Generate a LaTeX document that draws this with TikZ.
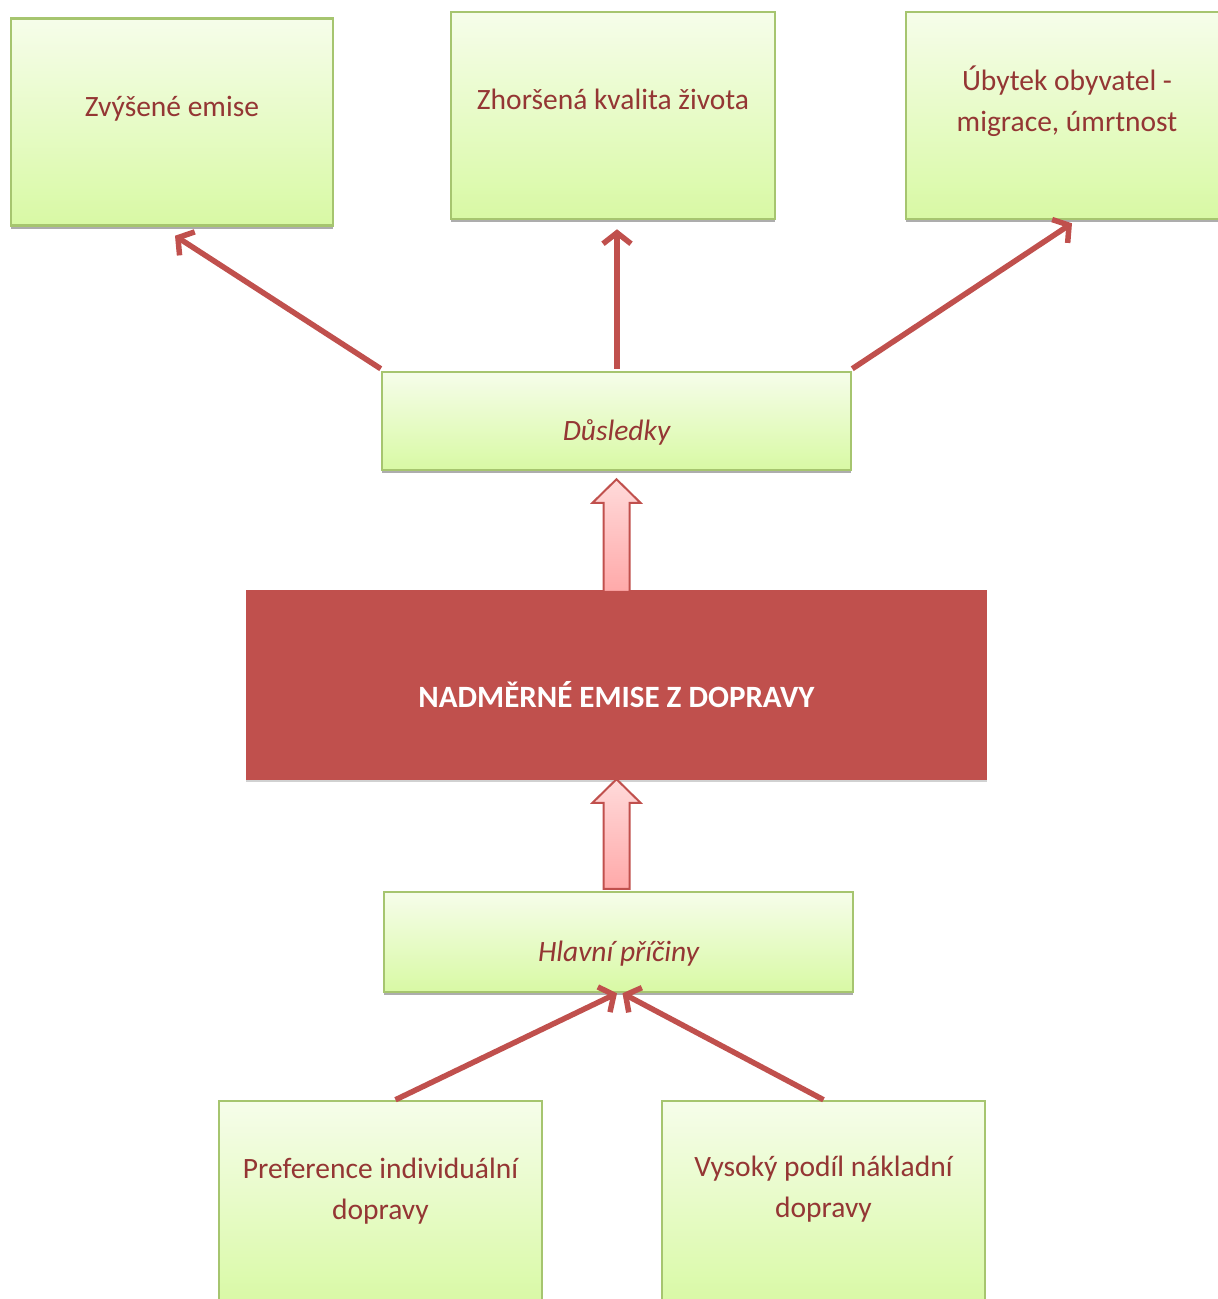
\documentclass[tikz,border=0pt]{standalone}
\usepackage{fontspec}
\setmainfont{Carlito}
\usetikzlibrary{arrows.meta,calc,shadows}
\definecolor{gTop}{HTML}{F6FDEA}
\definecolor{gBot}{HTML}{D8F9A4}
\definecolor{gBorder}{HTML}{A6C56F}
\definecolor{redBox}{HTML}{C0504D}
\definecolor{txtRed}{HTML}{943634}
\definecolor{pTop}{HTML}{FFDADA}
\definecolor{pBot}{HTML}{FFA9A9}
\tikzset{
  gbox/.style={rectangle, draw=gBorder, line width=2.5pt, top color=gTop, bottom color=gBot,
    drop shadow={shadow xshift=0pt, shadow yshift=-3pt, fill=black!40, opacity=0.8}, inner sep=0pt},
  txt/.style={text=txtRed, font=\fontsize{29.5}{41}\selectfont, align=center, inner sep=0pt},
  conn/.style={draw=redBox, line width=5.5pt, -{Straight Barb[length=11pt,width=28pt]}},
  blockarrow/.style={draw=redBox, line width=2pt, top color=pTop, bottom color=pBot, line join=miter}
}
\begin{document}
\begin{tikzpicture}[x=1pt,y=-1pt]
\useasboundingbox (0,0) rectangle (1218,1299);
% top boxes
\node[gbox, minimum width=322pt, minimum height=207pt] (b1) at (172,122) {};
\node[txt] (t1) at ($(b1.center)+(0,-13)$) {Zvýšené emise};
\node[gbox, minimum width=324pt, minimum height=207pt] (b2) at (613,115.5) {};
\node[txt] (t2) at ($(b2.center)+(0,-16)$) {Zhoršená kvalita života};
\node[gbox, minimum width=322pt, minimum height=207pt] (b3) at (1067,115.5) {};
\node[txt] (t3) at ($(b3.center)+(0,-14)$) {Úbytek obyvatel -\\migrace, úmrtnost};
% consequences
\node[gbox, minimum width=469pt, minimum height=98pt] (dus) at (616.5,421) {};
\node[txt, font=\fontsize{29.5}{41}\selectfont\itshape] (tdus) at ($(dus.center)+(0,11)$) {Důsledky};
% main
\node[rectangle, fill=redBox, minimum width=741pt, minimum height=190pt, inner sep=0pt,
  drop shadow={shadow xshift=0pt, shadow yshift=-2pt, fill=black!30, opacity=0.6}] (main) at (616.5,685) {};
\node[txt, text=white, font=\fontsize{31}{41}\selectfont\bfseries] (tmain) at ($(main.center)+(0,10)$) {NADMĚRNÉ EMISE Z DOPRAVY};
% causes
\node[gbox, minimum width=469pt, minimum height=100pt] (hl) at (618.5,942) {};
\node[txt, font=\fontsize{29.5}{41}\selectfont\itshape] (thl) at ($(hl.center)+(0,12)$) {Hlavní příčiny};
% bottom boxes
\node[gbox, minimum width=323pt, minimum height=207pt] (p1) at (380.5,1204.5) {};
\node[txt] (tp1) at ($(p1.center)+(0,-13)$) {Preference individuální\\dopravy};
\node[gbox, minimum width=323pt, minimum height=207pt] (p2) at (823.5,1204.5) {};
\node[txt] (tp2) at ($(p2.center)+(0,-15)$) {Vysoký podíl nákladní\\dopravy};
% connectors top
\coordinate (e1) at ($(b1.south)+(3,9)$);
\coordinate (e2) at ($(b2.south)+(4,9)$);
\coordinate (e3) at ($(b3.south)+(5,3)$);
\draw[conn] ($(dus.north west)+(0,-2)$) -- (e1);
\draw[conn] ($(dus.north)+(0.5,-2)$) -- (e2);
\draw[conn] ($(dus.north east)+(0,-2)$) -- (e3);
% connectors bottom
\coordinate (h1) at ($(hl.south)+(-1.5,0)$);
\coordinate (h2) at ($(hl.south)+(4,0)$);
\draw[conn] ($(p1.north)+(15,0)$) -- (h1);
\draw[conn] ($(p2.north)+(0,0)$) -- (h2);
% block arrows
\coordinate (a1b) at ($(main.north)+(0,2)$);
\draw[blockarrow] (a1b) ++(-13,0) -- ++(0,-89) -- ++(-11,0) -- ($(dus.south)+(0,8)$) -- ($(a1b)+(24,-89)$) -- ++(-11,0) -- ++(0,89) -- cycle;
\coordinate (a2b) at ($(hl.north)+(-2,-2)$);
\draw[blockarrow] (a2b) ++(-13,0) -- ++(0,-86) -- ++(-11,0) -- ($(main.south)+(0,-1)$) -- ($(a2b)+(24,-86)$) -- ++(-11,0) -- ++(0,86) -- cycle;
\end{tikzpicture}
\end{document}
